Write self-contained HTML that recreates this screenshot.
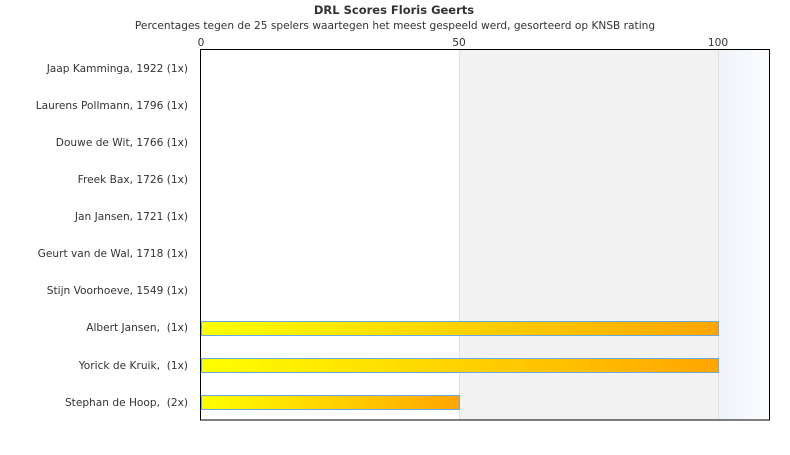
<!DOCTYPE html>
<html><head><style>body{margin:0;background:#fff}text{white-space:pre}</style></head><body>
<svg width="790" height="450" xmlns="http://www.w3.org/2000/svg" font-family="DejaVu Sans, Liberation Sans, sans-serif">
<defs><linearGradient id="g" x1="0" x2="1"><stop offset="0" stop-color="#ffff00"/><stop offset="1" stop-color="#ffa500"/></linearGradient>
<linearGradient id="b" x1="0" x2="1"><stop offset="0" stop-color="#eef3f9"/><stop offset="1" stop-color="#fbfcfe"/></linearGradient></defs>
<text x="394" y="14" text-anchor="middle" font-size="11.5" font-weight="bold" fill="#333">DRL Scores Floris Geerts</text>
<text x="395" y="29" text-anchor="middle" font-size="10.6" fill="#333">Percentages tegen de 25 spelers waartegen het meest gespeeld werd, gesorteerd op KNSB rating</text>
<rect x="459" y="49" width="259" height="371" fill="#f2f2f2"/>
<rect x="718" y="49" width="52" height="371" fill="url(#b)"/>
<line x1="459.5" y1="49" x2="459.5" y2="420" stroke="#e0e0e0"/>
<line x1="718.5" y1="49" x2="718.5" y2="420" stroke="#e0e0e0"/>
<g font-size="10.6" fill="#333" text-anchor="middle"><text x="201" y="46">0</text><text x="459" y="46">50</text><text x="718" y="46">100</text></g>
<g font-size="10.6" fill="#333" text-anchor="end">
<text x="188" y="72">Jaap Kamminga, 1922 (1x)</text>
<text x="188" y="109">Laurens Pollmann, 1796 (1x)</text>
<text x="188" y="146">Douwe de Wit, 1766 (1x)</text>
<text x="188" y="183">Freek Bax, 1726 (1x)</text>
<text x="188" y="220">Jan Jansen, 1721 (1x)</text>
<text x="188" y="257">Geurt van de Wal, 1718 (1x)</text>
<text x="188" y="294">Stijn Voorhoeve, 1549 (1x)</text>
<text x="188" y="331">Albert Jansen,  (1x)</text>
<text x="188" y="369">Yorick de Kruik,  (1x)</text>
<text x="188" y="406">Stephan de Hoop,  (2x)</text>
</g>
<g stroke="#6aa8e0" stroke-width="1">
<rect x="201.5" y="321.5" width="517" height="14" fill="url(#g)"/>
<rect x="201.5" y="358.5" width="517" height="14" fill="url(#g)"/>
<rect x="201.5" y="395.5" width="258" height="14" fill="url(#g)"/>
</g>
<rect x="200.5" y="49.5" width="569" height="370.5" fill="none" stroke="#000"/>
</svg>
</body></html>
